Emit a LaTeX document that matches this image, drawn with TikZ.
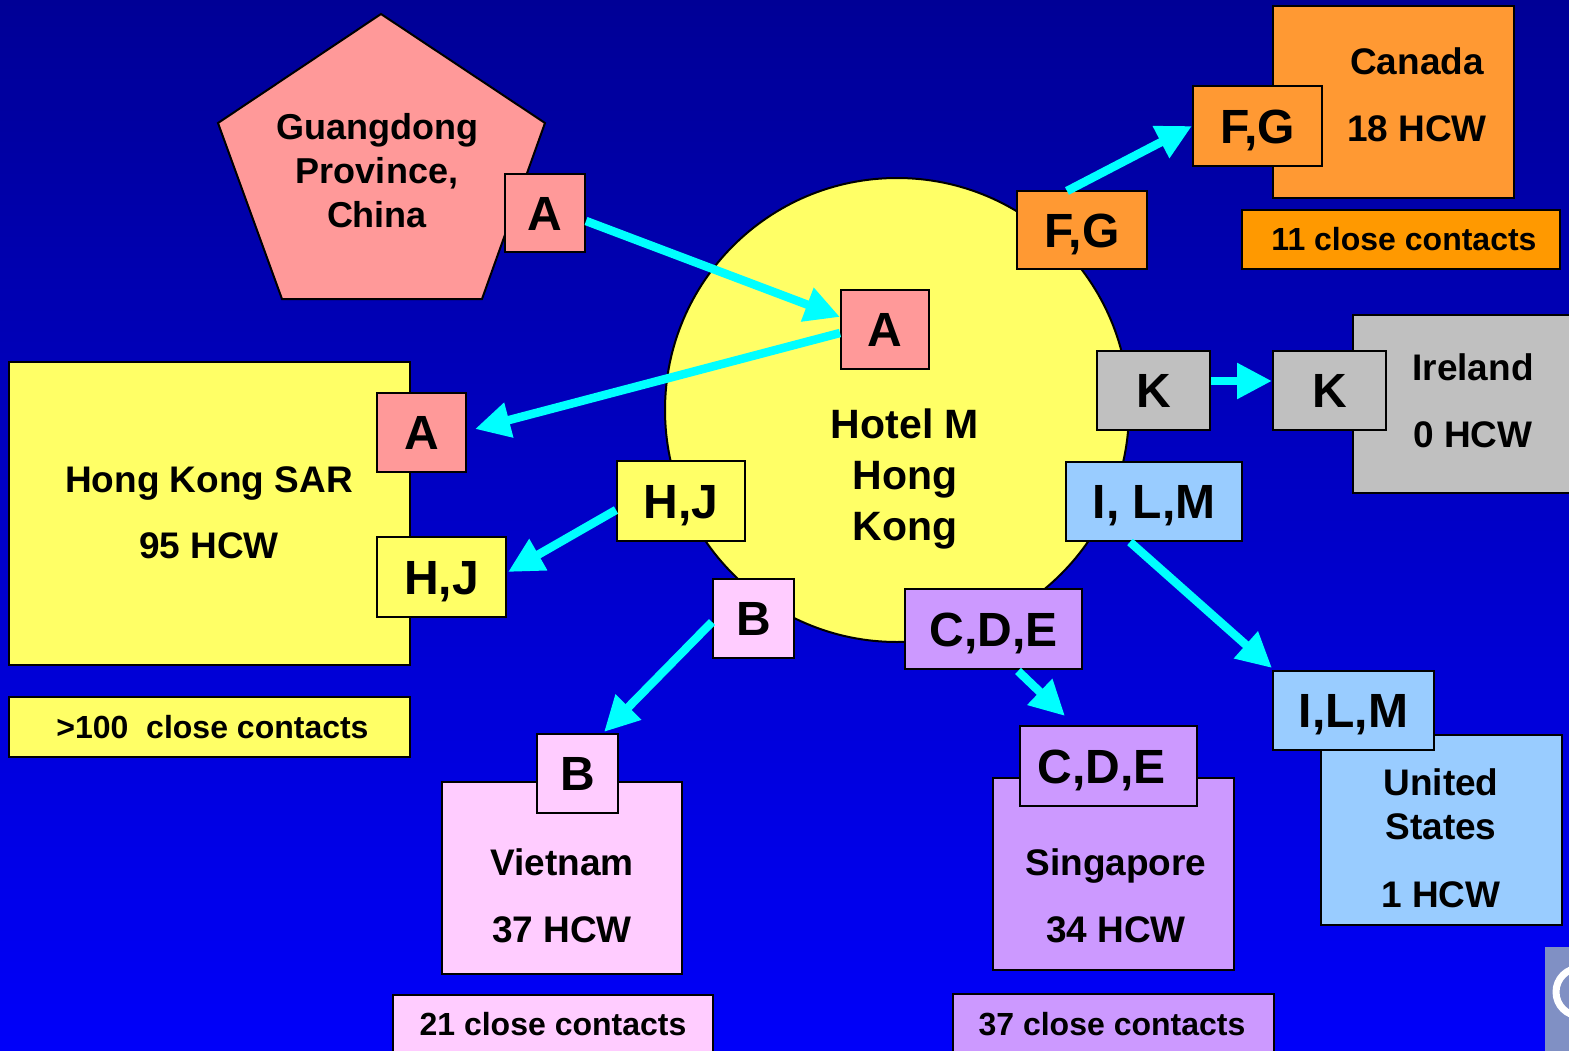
\documentclass[tikz,border=0pt]{standalone}
\usepackage{fontspec}
\setmainfont{Liberation Sans}
\usetikzlibrary{arrows.meta,calc}
\definecolor{bgtop}{RGB}{0,0,150}
\definecolor{bgbot}{RGB}{0,0,250}
\definecolor{pinkA}{HTML}{FF9999}
\definecolor{yellowC}{HTML}{FFFF66}
\definecolor{grayC}{HTML}{C0C0C0}
\definecolor{blueC}{HTML}{99CCFF}
\definecolor{purpleC}{HTML}{CC99FF}
\definecolor{lpinkC}{HTML}{FFCCFF}
\definecolor{orangeC}{HTML}{FF9933}
\definecolor{orangeD}{HTML}{FF9900}
\definecolor{cyanC}{HTML}{00FFFF}
\definecolor{logoC}{RGB}{128,144,196}
\newcommand{\fbig}{\fontsize{48}{56}\selectfont\bfseries}
\newcommand{\fmid}{\fontsize{37}{44}\selectfont\bfseries}
\newcommand{\fhot}{\fontsize{41}{50}\selectfont\bfseries}
\newcommand{\fsml}{\fontsize{32}{38}\selectfont\bfseries}
\newcommand{\fgd}{\fontsize{36}{44}\selectfont\bfseries}
\begin{document}
\begin{tikzpicture}[x=1pt,y=-1pt,
  cbox/.style={draw=black, line width=2pt, inner sep=0pt},
  letter/.style={draw=black, line width=2pt, inner sep=0pt, font=\fbig, text height=34.4pt, text depth=0pt},
  close/.style={draw=black, line width=2pt, inner sep=0pt, font=\fsml, text height=22.9pt, text depth=0pt},
  txt/.style={anchor=base, inner sep=0pt, font=\fmid},
  arr/.style={draw=cyanC, line width=8.5pt, -{Triangle[length=35pt,width=34pt]}}]
\useasboundingbox (0,0) rectangle (1569,1051);
\shade[top color=bgtop, bottom color=bgbot] (0,0) rectangle (1569,1051);

% Hotel circle
\node[cbox, circle, fill=yellowC, minimum size=464pt] (hotel) at (897,410) {};
\node[txt, font=\fhot] (hot1) at (905,438) {Hotel M};
\node[txt, font=\fhot] (hot2) at (905,489) {Hong};
\node[txt, font=\fhot] (hot3) at (905,540) {Kong};

% Guangdong pentagon
\draw[line width=2pt, fill=pinkA] (381,14) -- (545,123) -- (482,299) -- (282,299) -- (218,123) -- cycle;
\node[txt, font=\fgd] (gd1) at (377,140) {Guangdong};
\node[txt, font=\fgd] (gd2) at (377,184) {Province,};
\node[txt, font=\fgd] (gd3) at (377,228) {China};

% Hong Kong SAR
\node[cbox, fill=yellowC, minimum width=401pt, minimum height=303pt] (hk) at (209.5,513.5) {};
\node[txt] (hk1) at (209,492) {Hong Kong SAR};
\node[txt] (hk2) at (209,558) {95 HCW};
\node[close, fill=yellowC, minimum width=401pt, minimum height=60pt] (hkc) at (209.5,727) {\hspace*{6pt}>100\ \ close contacts};

% Canada
\node[cbox, fill=orangeC, minimum width=241pt, minimum height=192pt] (ca) at (1393.5,102) {};
\node[txt] (ca1) at (1417,75) {Canada};
\node[txt] (ca2) at (1417,142) {18 HCW};
\node[close, fill=orangeD, minimum width=318pt, minimum height=59pt] (cac) at (1401,239.5) {\hspace*{6pt}11 close contacts};

% Ireland
\node[cbox, fill=grayC, minimum width=240pt, minimum height=178pt] (ie) at (1473,404) {};
\node[txt] (ie1) at (1473,380) {Ireland};
\node[txt] (ie2) at (1473,447) {0 HCW};

% Vietnam
\node[cbox, fill=lpinkC, minimum width=240pt, minimum height=192pt] (vn) at (562,878) {};
\node[txt] (vn1) at (562,875) {Vietnam};
\node[txt] (vn2) at (562,942) {37 HCW};
\node[cbox, fill=lpinkC, minimum width=320pt, minimum height=70pt] (vnc) at (553,1030) {};
\node[txt, font=\fsml] (vnc1) at (553,1035) {21 close contacts};

% Singapore
\node[cbox, fill=purpleC, minimum width=241pt, minimum height=192pt] (sg) at (1113.5,874) {};
\node[txt] (sg1) at (1116,875) {Singapore};
\node[txt] (sg2) at (1116,942) {34 HCW};
\node[cbox, fill=purpleC, minimum width=321pt, minimum height=70pt] (sgc) at (1113.5,1029) {};
\node[txt, font=\fsml] (sgc1) at (1112,1035) {37 close contacts};

% United States
\node[cbox, fill=blueC, minimum width=241pt, minimum height=190pt] (us) at (1441.5,830) {};
\node[txt] (us1) at (1441,795) {United};
\node[txt] (us2) at (1441,839) {States};
\node[txt] (us3) at (1441,907) {1 HCW};

% letter boxes
\node[letter, fill=pinkA, minimum width=80pt, minimum height=78pt] (gA) at (545,213) {A};
\node[letter, fill=pinkA, minimum width=88pt, minimum height=79pt] (hA) at (885,329.5) {A};
\node[letter, fill=pinkA, minimum width=89pt, minimum height=79pt] (kA) at (421.5,432.5) {A};
\node[letter, fill=yellowC, minimum width=128pt, minimum height=80pt] (hHJ) at (681,501) {H,J};
\node[letter, fill=yellowC, minimum width=129pt, minimum height=80pt] (kHJ) at (441.5,577) {H,J};
\node[letter, fill=lpinkC, minimum width=81pt, minimum height=79pt] (hB) at (753.5,618.5) {B};
\node[letter, fill=lpinkC, minimum width=81pt, minimum height=79pt] (vB) at (577.5,773.5) {B};
\node[letter, fill=purpleC, minimum width=177pt, minimum height=80pt] (hCDE) at (993.5,629) {C,D,E};
\node[letter, fill=purpleC, minimum width=177pt, minimum height=80pt] (sCDE) at (1108.5,766) {C,D,E\hspace*{14pt}};
\node[letter, fill=blueC, minimum width=176pt, minimum height=79pt] (hILM) at (1154,501.5) {I, L,M};
\node[letter, fill=blueC, minimum width=161pt, minimum height=79pt] (uILM) at (1353.5,710.5) {I,L,M};
\node[letter, fill=grayC, minimum width=113pt, minimum height=79pt] (hK) at (1153.5,390.5) {K};
\node[letter, fill=grayC, minimum width=113pt, minimum height=79pt] (iK) at (1329.5,390.5) {K};
\node[letter, fill=orangeC, minimum width=130pt, minimum height=78pt] (hFG) at (1082,230) {F,G};
\node[letter, fill=orangeC, minimum width=129pt, minimum height=80pt] (cFG) at (1257.5,126) {F,G};

% arrows
\draw[arr] ($(gA.east)+(0,8)$) -- ($(hA.west)+(0,-12.5)$);
\draw[arr] ($(hA.west)+(0,3.5)$) -- ($(kA.east)+(8,-3.5)$);
\draw[arr] ($(hHJ.west)+(0,9)$) -- ($(kHJ.east)+(1,-5)$);
\draw[arr] ($(hB.west)+(0,3.5)$) -- ($(vB.north east)+(-15,-1)$);
\draw[arr] ($(hCDE.south)+(24.5,1)$) -- ($(sCDE.north)+(-43.5,-9)$);
\draw[arr] ($(hILM.south)+(-24,0)$) -- ($(uILM.north west)+(0,-2)$);
\draw[arr] ($(hK.east)+(0,-9.5)$) -- ($(iK.west)+(0,-9.5)$);
\draw[arr] ($(hFG.north)+(-15,1)$) -- (cFG.west);

% logo fragment
\fill[logoC] (1545,947) rectangle (1575,1060);
\draw[white, line width=7pt] (1580,992) circle (24);
\end{tikzpicture}
\end{document}
